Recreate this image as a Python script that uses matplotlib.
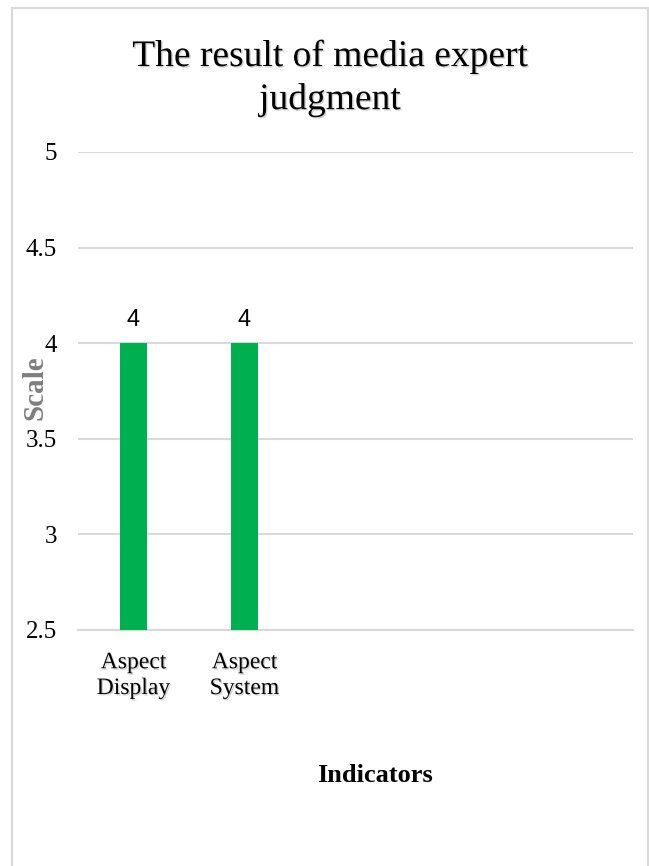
import matplotlib
matplotlib.use("Agg")
import matplotlib.pyplot as plt
import matplotlib.patheffects as pe
from matplotlib.patches import Rectangle

categories = ["Aspect\nDisplay", "Aspect\nSystem", "", "", ""]
values = [4, 4, None, None, None]
yticks = [2.5, 3, 3.5, 4, 4.5, 5]
ytick_labels = ["2.5", "3", "3.5", "4", "4.5", "5"]

serif = "Liberation Serif"
plt.rcParams["font.family"] = [serif, "DejaVu Serif"]

W, H = 649, 866
fig = plt.figure(figsize=(W / 100, H / 100), dpi=100)
fig.patch.set_facecolor("white")

# chart border
fig.patches.append(Rectangle((12 / W, -0.01), (648 - 12) / W, (H - 8) / H + 0.01,
                             transform=fig.transFigure, fill=False,
                             edgecolor="#D9D9D9", linewidth=1.5))

ax = fig.add_axes([78 / W, (H - 630) / H, (633 - 78) / W, (630 - 152) / H])
shadow = [pe.withSimplePatchShadow(offset=(1, -1), shadow_rgbFace="gray", alpha=0.35)]

x = list(range(len(categories)))
bx = [i for i, v in zip(x, values) if v is not None]
bv = [v for v in values if v is not None]
base = yticks[0]
ax.bar(bx, [v - base for v in bv], bottom=base, width=0.245, color="#00B050", zorder=3)
for xi, v in zip(bx, bv):
    ax.text(xi, v + 0.065, f"{v:g}", ha="center", va="bottom",
            fontsize=17, family="Liberation Sans", color="black")

ax.set_xlim(-0.5, len(categories) - 0.5)
ax.set_ylim(2.5, 5)
ax.set_yticks(yticks)
ax.set_yticklabels(ytick_labels, fontsize=18, family=serif)
ax.set_xticks(x)
ax.set_xticklabels(categories, fontsize=17, family=serif, linespacing=1.3)
for lbl in ax.get_xticklabels():
    lbl.set_path_effects(shadow)
ax.tick_params(axis="y", length=0, pad=15)
ax.tick_params(axis="x", length=0, pad=16)
ax.grid(axis="y", color="#D9D9D9", linewidth=1.5, zorder=0)
ax.set_axisbelow(True)
for s in ["top", "right", "left"]:
    ax.spines[s].set_visible(False)
ax.spines["bottom"].set_color("#D9D9D9")
ax.spines["bottom"].set_linewidth(1.5)

fig.text(330 / W, 1 - 78 / H, "The result of media expert\njudgment", ha="center", va="center",
         fontsize=27, family=serif, linespacing=1.3, path_effects=shadow)
fig.text(375 / W, 1 - 776 / H, "Indicators", ha="center", va="center",
         fontsize=19, family=serif, weight="bold")
fig.text(35 / W, 1 - 388 / H, "Scale", ha="center", va="center", rotation=90,
         fontsize=21, family=serif, weight="bold", color="#7F7F7F")

fig.savefig("out.png", dpi=100)
